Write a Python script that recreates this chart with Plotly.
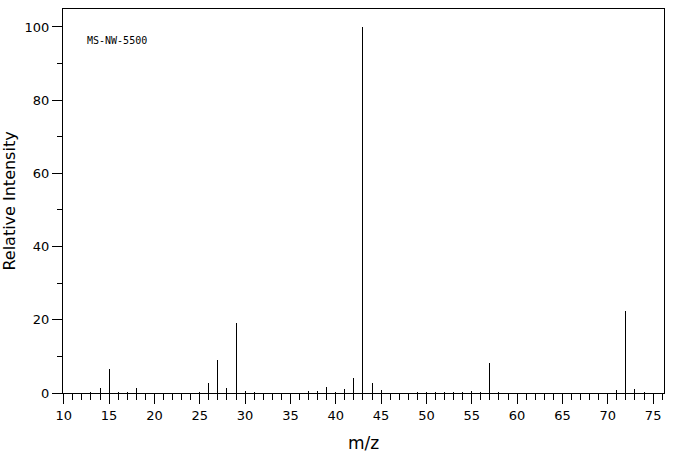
import plotly.graph_objects as go

mz = [13, 14, 15, 16, 17, 18, 25, 26, 27, 28, 29, 30, 31, 37, 38, 39, 40, 41, 42, 43,
      44, 45, 49, 50, 51, 52, 53, 54, 55, 56, 57, 58, 71, 72, 73, 74]
intensity = [0.3, 1.4, 6.6, 0.3, 0.3, 1.4, 0.3, 2.8, 9.1, 1.4, 19.0, 0.5, 0.3, 0.5, 0.5, 1.6, 0.3, 1.1, 4.1, 100,
             2.8, 0.7, 0.3, 0.3, 0.3, 0.3, 0.3, 0.3, 0.5, 0.3, 8.1, 0.3, 0.8, 22.3, 1.1, 0.3]
x_ticks = [10, 15, 20, 25, 30, 35, 40, 45, 50, 55, 60, 65, 70, 75]
y_ticks = [0, 20, 40, 60, 80, 100]
label = "MS-NW-5500"

xs, ys = [], []
for m, v in zip(mz, intensity):
    xs += [m, m, None]
    ys += [0, v, None]

fig = go.Figure(go.Scatter(x=xs, y=ys, mode="lines",
                           line=dict(color="black", width=1), hoverinfo="skip"))

font = "DejaVu Sans"
fig.update_layout(
    width=676, height=455,
    margin=dict(l=63, r=12, t=9, b=62),
    paper_bgcolor="white", plot_bgcolor="white",
    showlegend=False,
    font=dict(family=font, size=13, color="black"),
    xaxis=dict(range=[9.92, 76.2], tickvals=x_ticks, ticks="outside", ticklen=10,
               tickcolor="black", showgrid=False, zeroline=False, automargin=False,
               showline=True, linecolor="black", linewidth=1, mirror=True,
               minor=dict(dtick=1, tick0=10, ticks="outside", ticklen=6, tickcolor="black", showgrid=False),
               title=dict(text="m/z", font=dict(size=17, family=font)),
               tickfont=dict(size=13, family=font)),
    yaxis=dict(range=[0, 104.9], tickvals=y_ticks, ticks="outside", ticklen=10,
               tickcolor="black", showgrid=False, zeroline=False, automargin=False,
               showline=True, linecolor="black", linewidth=1, mirror=True,
               minor=dict(dtick=10, ticks="outside", ticklen=5, tickcolor="black", showgrid=False),
               title=dict(text="Relative Intensity", font=dict(size=16, family=font)),
               tickfont=dict(size=13, family=font)),
    annotations=[dict(text=label, xref="paper", yref="paper", x=0.037, y=0.919,
                      xanchor="left", yanchor="middle", showarrow=False,
                      font=dict(family="DejaVu Sans Mono", size=10, color="black"))],
)

post = """
document.body.style.margin = '0';
document.querySelectorAll('.scatterlayer path.js-line, .xtick path, .ytick path, path.xtick, path.ytick, .xlines-above, .ylines-above').forEach(function(p){
  p.style.shapeRendering = 'crispEdges';
});
"""
fig.write_html("out.html", post_script=post, config={"displayModeBar": False})
